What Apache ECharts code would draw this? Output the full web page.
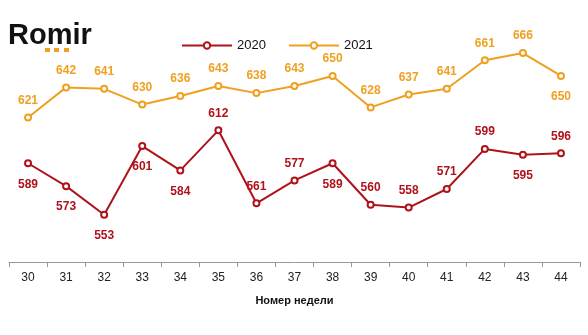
<!DOCTYPE html>
<html><head><meta charset="utf-8">
<script src="https://cdn.jsdelivr.net/npm/echarts@6/dist/echarts.min.js"></script>
<style>html,body{margin:0;padding:0;background:#fff}#c{width:588px;height:335px}</style>
</head><body><div id="c"></div>
<script>
const weeks = ['30','31','32','33','34','35','36','37','38','39','40','41','42','43','44'];
const values2020 = [589,573,553,601,584,612,561,577,589,560,558,571,599,595,596];
const values2021 = [621,642,641,630,636,643,638,643,650,628,637,641,661,666,650];
const labelPos2020 = ['bottom','bottom','bottom','bottom','bottom','top','top','top','bottom','top','top','top','top','bottom','top'];
const labelPos2021 = ['top','top','top','top','top','top','top','top','top','top','top','top','top','top','bottom'];
const C2020 = '#B0121B', C2021 = '#F0A020';
function mk(vals, pos){
  return vals.map((v,i)=>({value:v,label:{position:pos[i],distance: pos[i]==='bottom'?11:7}}));
}
const chart = echarts.init(document.getElementById('c'));
chart.setOption({
  animation:false,
  graphic:[
    {type:'text',left:8,top:21,style:{text:'Romir',font:'bold 29px "Liberation Sans", Arial',fill:'#111'}},
    {type:'rect',shape:{x:45,y:48,width:5,height:4},style:{fill:'#F0A020'}},
    {type:'rect',shape:{x:54,y:48,width:5,height:4},style:{fill:'#F0A020'}},
    {type:'rect',shape:{x:64,y:48,width:5,height:4},style:{fill:'#F0A020'}}
  ],
  legend:{top:34,left:176,itemWidth:50,itemHeight:8,itemGap:22,
    textStyle:{fontFamily:'"Liberation Sans", Arial',fontSize:13,color:'#111'},
    data:['2020','2021']},
  grid:{left:9,right:8,top:33,bottom:73},
  xAxis:{type:'category',data:weeks,boundaryGap:true,
    axisLine:{lineStyle:{color:'#999'}},
    axisTick:{show:true,length:5,lineStyle:{color:'#999'}},
    axisLabel:{color:'#222',fontSize:12,fontFamily:'"Liberation Sans", Arial',margin:10},
    name:'Номер недели',nameLocation:'middle',nameGap:33,
    nameTextStyle:{fontWeight:'bold',fontSize:11,color:'#111',fontFamily:'"Liberation Sans", Arial'}},
  yAxis:{type:'value',min:520,max:680,show:false,splitLine:{show:false}},
  series:[
    {name:'2020',type:'line',data:mk(values2020,labelPos2020),color:C2020,
     symbol:'emptyCircle',symbolSize:6,lineStyle:{width:2,color:C2020},
     itemStyle:{color:C2020,borderWidth:1.5},
     label:{show:true,color:C2020,fontWeight:'bold',fontSize:12,fontFamily:'"Liberation Sans", Arial'}},
    {name:'2021',type:'line',data:mk(values2021,labelPos2021),color:C2021,
     symbol:'emptyCircle',symbolSize:6,lineStyle:{width:2,color:C2021},
     itemStyle:{color:C2021,borderWidth:1.5},
     label:{show:true,color:C2021,fontWeight:'bold',fontSize:12,fontFamily:'"Liberation Sans", Arial'}}
  ]
});
</script></body></html>
